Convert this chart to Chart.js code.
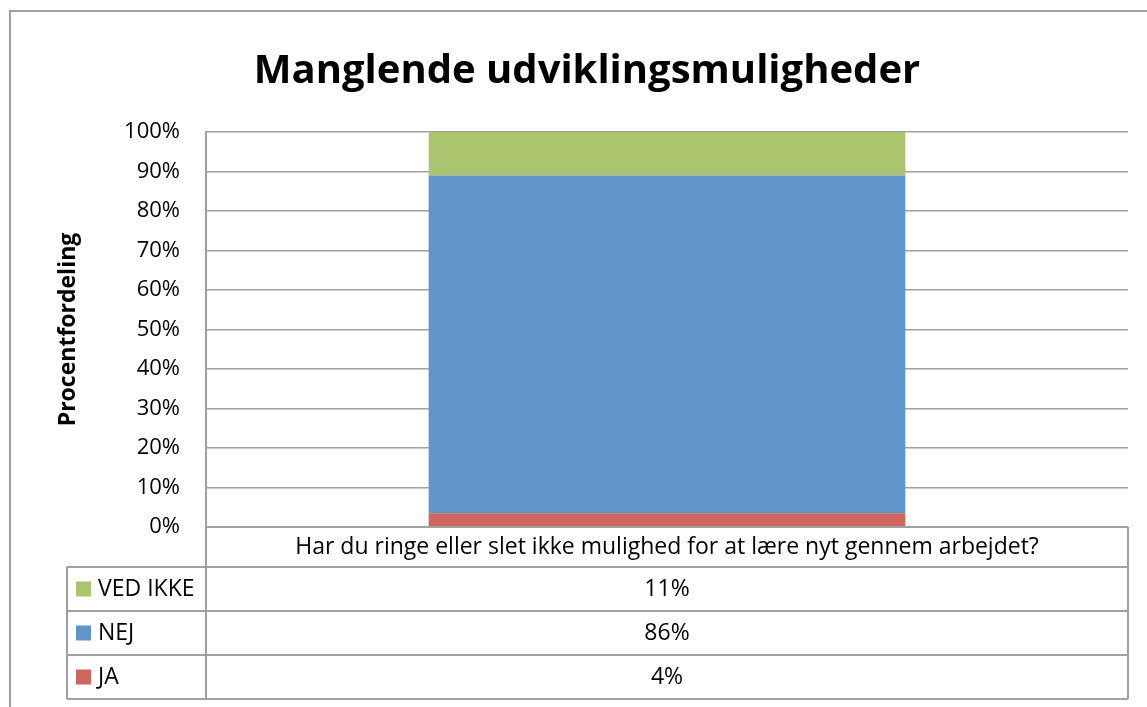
<!DOCTYPE html>
<html>
<head>
<meta charset="utf-8">
<script src="https://cdn.jsdelivr.net/npm/chart.js@4.4.0/dist/chart.umd.min.js"></script>
<style>
    html, body { margin: 0; padding: 0; background: #fff; }
    #wrap { position: relative; width: 1147px; height: 707px; }
</style>
</head>
<body>
<div id="wrap"><canvas id="myChart"></canvas></div>
<script>
const chartTitle = 'Manglende udviklingsmuligheder';
const categories = ['Har du ringe eller slet ikke mulighed for at lære nyt gennem arbejdet?'];
const seriesNames = ['JA', 'NEJ', 'VED IKKE'];
const jaValues = [3.5];
const nejValues = [85.5];
const vedIkkeValues = [11];
const yTickValues = [0, 10, 20, 30, 40, 50, 60, 70, 80, 90, 100];

const colors = ['rgb(206, 102, 96)', 'rgb(95, 149, 200)', 'rgb(171, 197, 110)'];
const gridColor = '#a0a0a0';
const fontFamily = "'Open Sans', sans-serif";

// title + data table under the plot, like the Excel one
const tablePlugin = {
    id: 'dataTable',
    afterDraw(chart) {
        const ctx = chart.ctx;
        const area = chart.chartArea;
        const xScale = chart.scales.x;
        const headH = 40, rowH = 44, legendLeft = 67;
        const top = area.bottom;
        const rowsTop = top + headH;
        const bottom = rowsTop + rowH * seriesNames.length;

        ctx.save();
        ctx.strokeStyle = gridColor;
        ctx.lineWidth = 2;

        // outer frame (runs off the picture right and bottom)
        ctx.beginPath();
        ctx.moveTo(10, chart.height);
        ctx.lineTo(10, 11);
        ctx.lineTo(chart.width, 11);
        ctx.stroke();

        // title sits a bit right of centre in the original
        ctx.fillStyle = '#000';
        ctx.font = 'bold 40px ' + fontFamily;
        ctx.textAlign = 'center';
        ctx.textBaseline = 'alphabetic';
        ctx.fillText(chartTitle, 587, 83);

        ctx.beginPath();
        ctx.moveTo(area.left, top); ctx.lineTo(area.left, bottom);
        ctx.moveTo(area.right, top); ctx.lineTo(area.right, bottom);
        ctx.moveTo(area.left, top); ctx.lineTo(area.right, top);
        ctx.moveTo(legendLeft, rowsTop); ctx.lineTo(legendLeft, bottom);
        for (let i = 0; i <= seriesNames.length; i++) {
            const y = rowsTop + rowH * i;
            ctx.moveTo(legendLeft, y); ctx.lineTo(area.right, y);
        }
        ctx.stroke();

        ctx.font = '23px ' + fontFamily;
        ctx.textBaseline = 'middle';
        categories.forEach((c, i) => {
            ctx.fillText(c, xScale.getPixelForValue(i), top + headH / 2);
        });

        // top series first, as in the reference
        const series = [jaValues, nejValues, vedIkkeValues];
        for (let r = 0; r < seriesNames.length; r++) {
            const s = seriesNames.length - 1 - r;
            const cy = rowsTop + rowH * r + rowH / 2;
            ctx.fillStyle = colors[s];
            ctx.fillRect(legendLeft + 9, cy - 7.5, 15, 15);
            ctx.fillStyle = '#000';
            ctx.textAlign = 'left';
            ctx.fillText(seriesNames[s], legendLeft + 31, cy);
            ctx.textAlign = 'center';
            series[s].forEach((v, i) => {
                ctx.fillText(Math.round(v) + '%', xScale.getPixelForValue(i), cy);
            });
        }
        ctx.restore();
    }
};

window.onload = function () {
    const ctx = document.getElementById('myChart').getContext('2d');

    const config = {
        type: 'bar',
        data: {
            labels: categories,
            datasets: [
                { label: seriesNames[0], data: jaValues, backgroundColor: colors[0] },
                { label: seriesNames[1], data: nejValues, backgroundColor: colors[1] },
                { label: seriesNames[2], data: vedIkkeValues, backgroundColor: colors[2] }
            ]
        },
        options: {
            responsive: true,
            maintainAspectRatio: false,
            animation: false,
            datasets: { bar: { barPercentage: 0.517, categoryPercentage: 1 } },
            layout: { padding: { left: 0, right: 19, top: 132, bottom: 180 } },
            plugins: {
                legend: { display: false },
                tooltip: { enabled: false },
                title: { display: false }
            },
            scales: {
                x: { stacked: true, display: false },
                y: {
                    stacked: true,
                    min: 0,
                    max: 100,
                    afterFit: (scale) => { scale.width = 206; },
                    afterBuildTicks: (scale) => { scale.ticks = yTickValues.map(v => ({ value: v })); },
                    ticks: {
                        color: '#000',
                        padding: 26,
                        font: { family: fontFamily, size: 22 },
                        callback: (v) => v + '%'
                    },
                    grid: { color: gridColor, lineWidth: 1.5, drawTicks: false },
                    border: { color: gridColor, width: 2 },
                    title: {
                        display: true,
                        text: 'Procentfordeling',
                        color: '#000',
                        font: { family: fontFamily, size: 23, weight: 'bold' },
                        padding: { top: 55, bottom: 0 }
                    }
                }
            }
        },
        plugins: [tablePlugin]
    };

    const myChart = new Chart(ctx, config);
};
</script>
</body>
</html>
